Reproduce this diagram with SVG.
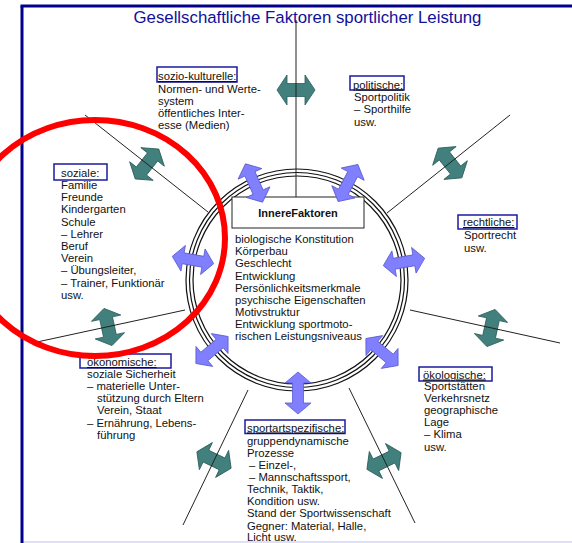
<svg xmlns="http://www.w3.org/2000/svg" width="572" height="543" viewBox="0 0 572 543">
<style>
text{font-family:"Liberation Sans",Arial,sans-serif;font-size:11.3px;fill:#111}
.title{font-size:16.8px;fill:#10109a}
.hd{text-decoration:underline}
.lbox{fill:none;stroke:#1a1aa0;stroke-width:1.5}
.spoke{stroke:#222;stroke-width:1;fill:none}
.ring{fill:none;stroke:#111;stroke-width:1.2}
.teal{fill:#41807c;stroke:#2c5c59;stroke-width:0.8}
.blue{fill:#8080ff;stroke:#5a5ad0;stroke-width:0.8}
</style>
<defs>
<path id="ta" d="M-19,0 L-9,-15 L-9,-6.5 L9,-6.5 L9,-15 L19,0 L9,15 L9,6.5 L-9,6.5 L-9,15 Z"/>
<path id="ba" d="M-21,0 L-10,-13 L-10,-5.5 L10,-5.5 L10,-13 L21,0 L10,13 L10,5.5 L-10,5.5 L-10,13 Z"/>
</defs>
<rect width="572" height="543" fill="#fff"/>
<g id="frame">
<line x1="22" y1="542" x2="572" y2="542" stroke="#d4d4f4" stroke-width="1.5"/>
<line x1="20.5" y1="6" x2="572" y2="6" stroke="#00008b" stroke-width="3"/>
<line x1="22" y1="6" x2="22" y2="543" stroke="#00008b" stroke-width="3"/>
</g>
<text class="title" x="307.5" y="23" text-anchor="middle">Gesellschaftliche Faktoren sportlicher Leistung</text>

<g id="innere">
<circle class="ring" cx="297" cy="280" r="111"/>
<circle class="ring" cx="297" cy="280" r="107.5"/>
<circle class="ring" cx="297" cy="280" r="104"/>
<rect x="232" y="197" width="132" height="31" fill="#fff" stroke="#222" stroke-width="1"/>
<text x="298" y="217" text-anchor="middle" font-weight="bold" style="font-size:11px">InnereFaktoren</text>
<text x="235" y="243">biologische Konstitution</text>
<text x="235" y="255">Körperbau</text>
<text x="235" y="267">Geschlecht</text>
<text x="235" y="279.5">Entwicklung</text>
<text x="235" y="291.5">Persönlichkeitsmerkmale</text>
<text x="235" y="303.5">psychische Eigenschaften</text>
<text x="235" y="315.5">Motivstruktur</text>
<text x="235" y="327.5">Entwicklung sportmoto-</text>
<text x="235" y="340">rischen Leistungsniveaus</text>
</g>

<g id="sozio-kulturelle">
<rect class="lbox" x="157" y="67" width="80" height="15"/>
<text class="hd" x="158" y="80">sozio-kulturelle:</text>
<text x="158" y="92.5">Normen- und Werte-</text>
<text x="158" y="104.5">system</text>
<text x="158" y="117">öffentliches Inter-</text>
<text x="158" y="129">esse (Medien)</text>
</g>

<g id="politische">
<rect class="lbox" x="350" y="76" width="54" height="14"/>
<text class="hd" x="353" y="88.5">politische:</text>
<text x="354" y="101">Sportpolitik</text>
<text x="354" y="113">– Sporthilfe</text>
<text x="354" y="125.5">usw.</text>
</g>

<g id="soziale">
<rect class="lbox" x="54" y="164" width="53" height="16"/>
<text x="61" y="177">soziale:</text>
<text x="61" y="189">Familie</text>
<text x="61" y="201.2">Freunde</text>
<text x="61" y="213.4">Kindergarten</text>
<text x="61" y="225.6">Schule</text>
<text x="61" y="237.8">– Lehrer</text>
<text x="61" y="250">Beruf</text>
<text x="61" y="262.2">Verein</text>
<text x="61" y="274.4">– Übungsleiter,</text>
<text x="61" y="286.6">– Trainer, Funktionär</text>
<text x="61" y="298.8">usw.</text>
</g>

<g id="rechtliche">
<rect class="lbox" x="458" y="215" width="59" height="14"/>
<text class="hd" x="463" y="226">rechtliche:</text>
<text x="464" y="239">Sportrecht</text>
<text x="464" y="251.5">usw.</text>
</g>

<g id="oekonomische">
<rect class="lbox" x="80" y="354" width="91" height="14"/>
<text class="hd" x="87" y="366">ökonomische:</text>
<text x="87" y="377.5">soziale Sicherheit</text>
<text x="87" y="390">– materielle Unter-</text>
<text x="97" y="402">stützung durch Eltern</text>
<text x="97" y="414">Verein, Staat</text>
<text x="87" y="426.5">– Ernährung, Lebens-</text>
<text x="97" y="438.5">führung</text>
</g>

<g id="oekologische">
<rect class="lbox" x="419" y="367" width="73" height="14"/>
<text class="hd" x="423" y="378.5">ökologische:</text>
<text x="424" y="390">Sportstätten</text>
<text x="424" y="402">Verkehrsnetz</text>
<text x="424" y="414">geographische</text>
<text x="424" y="426">Lage</text>
<text x="424" y="438">– Klima</text>
<text x="424" y="450.5">usw.</text>
</g>

<g id="sportartspezifische">
<rect class="lbox" x="245" y="420" width="100" height="13.5"/>
<text class="hd" x="247" y="431.5">sportartspezifische:</text>
<text x="247" y="444.5">gruppendynamische</text>
<text x="247" y="457">Prozesse</text>
<text x="249" y="469">– Einzel-,</text>
<text x="249" y="481">– Mannschaftssport,</text>
<text x="247" y="492.5">Technik, Taktik,</text>
<text x="247" y="504.5">Kondition usw.</text>
<text x="247" y="517">Stand der Sportwissenschaft</text>
<text x="247" y="529.5">Gegner: Material, Halle,</text>
<text x="247" y="541">Licht usw.</text>
</g>

<g id="connectors">
<use href="#ta" class="teal" transform="translate(296,90)"/>
<use href="#ta" class="teal" transform="translate(147,164) rotate(128.3)"/>
<use href="#ta" class="teal" transform="translate(450,163) rotate(51.5)"/>
<use href="#ta" class="teal" transform="translate(108,327) rotate(77.8)"/>
<use href="#ta" class="teal" transform="translate(491,328) rotate(102.4)"/>
<use href="#ta" class="teal" transform="translate(214,460) rotate(25.7)"/>
<use href="#ta" class="teal" transform="translate(384,461) rotate(-26)"/>
<line class="spoke" x1="296" y1="20" x2="296" y2="197"/>
<line class="spoke" x1="85" y1="115" x2="208" y2="212"/>
<line class="spoke" x1="510" y1="115" x2="387" y2="213"/>
<line class="spoke" x1="37" y1="342" x2="185" y2="310"/>
<line class="spoke" x1="560" y1="343" x2="410" y2="310"/>
<line class="spoke" x1="248" y1="390" x2="183" y2="525"/>
<line class="spoke" x1="349" y1="388" x2="415" y2="523"/>
<use href="#ba" class="blue" transform="translate(254,183) rotate(-114)"/>
<use href="#ba" class="blue" transform="translate(348,183) rotate(-62)"/>
<use href="#ba" class="blue" transform="translate(193,260) rotate(-170)"/>
<use href="#ba" class="blue" transform="translate(404,262) rotate(-10)"/>
<use href="#ba" class="blue" transform="translate(212,350) rotate(140)"/>
<use href="#ba" class="blue" transform="translate(382,352) rotate(40)"/>
<use href="#ba" class="blue" transform="translate(298,393) rotate(90)"/>
</g>

<ellipse id="highlight" cx="95" cy="238" rx="130" ry="118" fill="none" stroke="#ff0000" stroke-width="6"/>
</svg>
